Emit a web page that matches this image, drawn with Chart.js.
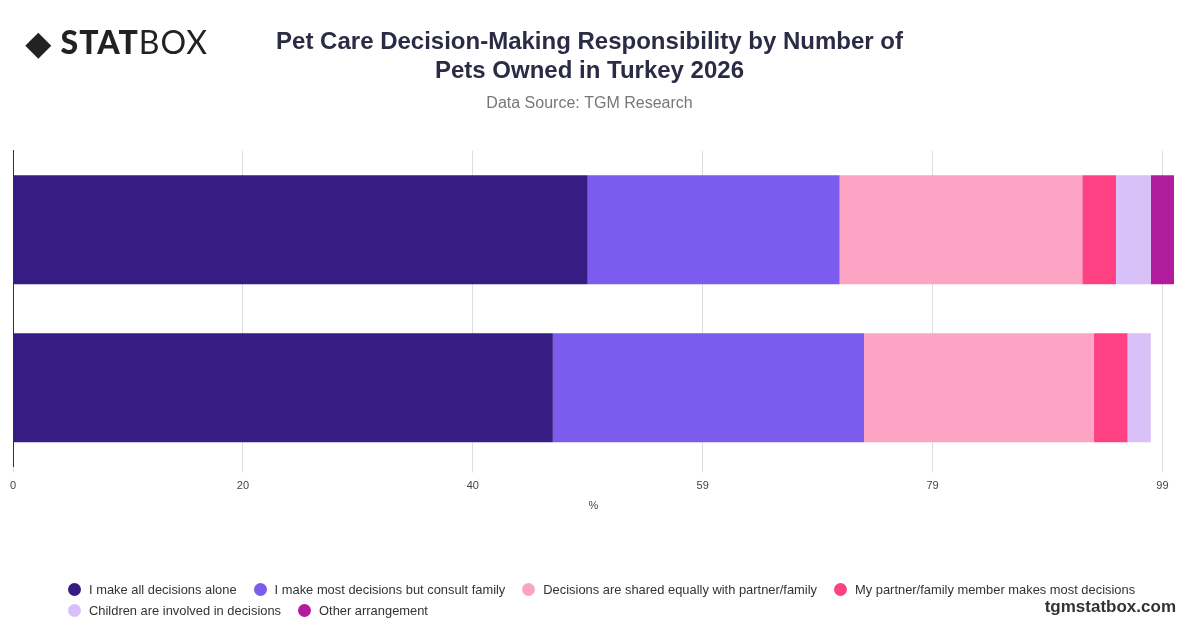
<!DOCTYPE html>
<html><head><meta charset="utf-8">
<script src="https://cdn.jsdelivr.net/npm/chart.js@4/dist/chart.umd.min.js"></script>
<style>
body{margin:0;width:1200px;height:628px;background:#fff;font-family:"Liberation Sans",Arial,sans-serif;overflow:hidden;position:relative}
#logo{position:absolute;left:26px;top:22px;font:900 32px Lato;color:#222;letter-spacing:1px}
#logo span{font-weight:400}
#wm{position:absolute;right:24px;top:597px;font:700 17px "Liberation Sans";color:#333}
#c{position:absolute;left:0;top:0}
#leg{position:absolute;left:68px;top:579px;width:1100px;font:12.9px "Liberation Sans";color:#333}
#leg div{display:inline-flex;align-items:center;margin-right:17px;height:21px}
#leg i{display:inline-block;width:13px;height:13px;border-radius:50%;margin-right:8px}
</style></head><body>
<canvas id="c" width="1200" height="628"></canvas>
<div id="logo">◆ STAT<span>BOX</span></div>
<div id="leg"></div>
<div id="wm">tgmstatbox.com</div>
<script>
const categories = ["1 pet", "2+ pets"];
const seriesNames = ["I make all decisions alone","I make most decisions but consult family","Decisions are shared equally with partner/family","My partner/family member makes most decisions","Children are involved in decisions","Other arrangement"];
const alone = [49.5, 46.5];
const consult = [21.7, 26.8];
const shared = [20.9, 19.8];
const partner = [2.9, 2.9];
const children = [3.0, 2.0];
const other = [2.0, 0];
const tickValues = [0, 19.8, 39.6, 59.4, 79.2, 99];
const colors = ["#371c84","#7b5cee","#fda4c4","#ff4184","#d8c0f8","#b01c9c"];
const seriesData = [alone, consult, shared, partner, children, other];
const leg=document.getElementById('leg');
seriesNames.forEach((n,i)=>{const d=document.createElement('div');d.innerHTML='<i style="background:'+colors[i]+'"></i>'+n;leg.appendChild(d);if(i==3)leg.appendChild(document.createElement('br'));});
new Chart(document.getElementById('c'), {
  type: 'bar',
  data: { labels: categories, datasets: seriesNames.map((n,i)=>({label:n,data:seriesData[i],backgroundColor:colors[i],borderWidth:0,barPercentage:0.69,categoryPercentage:1})) },
  options: {
    indexAxis:'y', responsive:false, animation:false,
    layout:{padding:{left:5,right:26,top:0,bottom:111}},
    scales:{
      x:{stacked:true,min:0,max:100,
        afterBuildTicks:a=>{a.ticks=tickValues.map(v=>({value:v}));},
        ticks:{callback:v=>Math.round(v),color:'#444',font:{size:11,family:'Liberation Sans'},padding:7},
        grid:{color:'#ddd',drawTicks:true,tickLength:6},border:{display:false},
        title:{display:true,text:'%',color:'#444',font:{size:11,family:'Liberation Sans'},padding:{top:0}}},
      y:{stacked:true,ticks:{display:false},grid:{display:false},border:{color:'#333',width:1}}
    },
    plugins:{
      title:{display:true,text:['Pet Care Decision-Making Responsibility by Number of','Pets Owned in Turkey 2026'],color:'#2b2b45',font:{size:24,weight:'bold',family:'Liberation Sans'},padding:{top:28,bottom:8},lineHeight:1.3},
      subtitle:{display:true,text:'Data Source: TGM Research',color:'#777',font:{size:16,family:'Liberation Sans'},padding:{bottom:38}},
      legend:{display:false},
      tooltip:{enabled:false}
    }
  }
});
</script></body></html>
